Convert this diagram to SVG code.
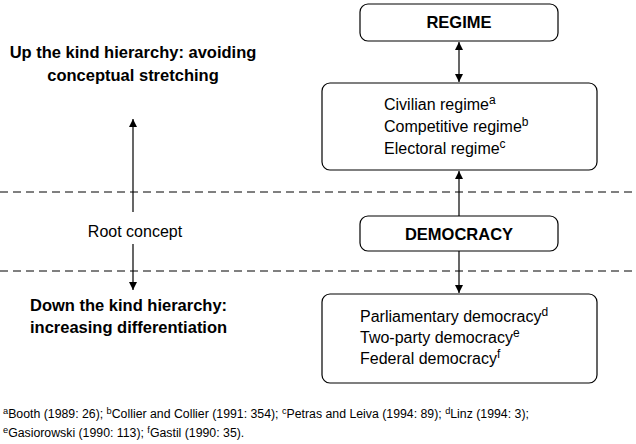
<svg xmlns="http://www.w3.org/2000/svg" width="636" height="444" viewBox="0 0 636 444">
<style>
text{font-family:"Liberation Sans",Arial,sans-serif;fill:#000}
.b{font-weight:bold;font-size:16.5px}
.t{font-size:16px}
.f{font-size:12.3px}
.s{font-size:75%}
.box{fill:#fff;stroke:#000;stroke-width:1.2}
.ln{stroke:#000;stroke-width:1.2;fill:none}
.d{stroke:#000;stroke-width:1;stroke-dasharray:8,5}
</style>
<defs>
<marker id="ah" viewBox="0 0 10 10" refX="10" refY="5" markerWidth="8" markerHeight="8" markerUnits="userSpaceOnUse" orient="auto-start-reverse"><path d="M0,0 L10,5 L0,10 z" fill="#000"/></marker>
</defs>
<line class="d" x1="0" y1="192" x2="636" y2="192"/>
<line class="d" x1="0" y1="271" x2="636" y2="271"/>
<g id="regime"><rect class="box" x="360" y="4" width="198" height="37" rx="8"/><text class="b" x="459" y="28" text-anchor="middle">REGIME</text></g>
<g id="regimes"><rect class="box" x="322" y="83" width="275" height="87" rx="8"/>
<text class="t" x="384" y="110">Civilian regime<tspan class="s" dy="-6">a</tspan></text>
<text class="t" x="384" y="132">Competitive regime<tspan class="s" dy="-6">b</tspan></text>
<text class="t" x="384" y="154">Electoral regime<tspan class="s" dy="-6">c</tspan></text></g>
<g id="democracy"><rect class="box" x="360" y="216" width="198" height="35" rx="8"/><text class="b" x="459" y="240" text-anchor="middle">DEMOCRACY</text></g>
<g id="democracies"><rect class="box" x="322" y="294" width="275" height="89" rx="8"/>
<text class="t" x="360" y="322">Parliamentary democracy<tspan class="s" dy="-6">d</tspan></text>
<text class="t" x="360" y="343">Two-party democracy<tspan class="s" dy="-6">e</tspan></text>
<text class="t" x="360" y="364">Federal democracy<tspan class="s" dy="-6">f</tspan></text></g>
<g id="labels">
<text class="b" x="133" y="58" text-anchor="middle">Up the kind hierarchy: avoiding</text>
<text class="b" x="133" y="81" text-anchor="middle">conceptual stretching</text>
<text class="t" x="135" y="237" text-anchor="middle">Root concept</text>
<text class="b" x="30" y="311">Down the kind hierarchy:</text>
<text class="b" x="30" y="333">increasing differentiation</text>
</g>
<g id="connectors">
<line class="ln" x1="459" y1="42" x2="459" y2="82" marker-start="url(#ah)" marker-end="url(#ah)"/>
<line class="ln" x1="459" y1="216" x2="459" y2="171" marker-end="url(#ah)"/>
<line class="ln" x1="459" y1="251" x2="459" y2="293" marker-end="url(#ah)"/>
<line class="ln" x1="133" y1="212" x2="133" y2="119" marker-end="url(#ah)"/>
<line class="ln" x1="133" y1="244" x2="133" y2="290" marker-end="url(#ah)"/>
</g>
<g id="footnotes">
<text class="f" x="3" y="418"><tspan class="s" dy="-4">a</tspan><tspan dy="4">Booth (1989: 26); </tspan><tspan class="s" dy="-4">b</tspan><tspan dy="4">Collier and Collier (1991: 354); </tspan><tspan class="s" dy="-4">c</tspan><tspan dy="4">Petras and Leiva (1994: 89); </tspan><tspan class="s" dy="-4">d</tspan><tspan dy="4">Linz (1994: 3);</tspan></text>
<text class="f" x="3" y="437"><tspan class="s" dy="-4">e</tspan><tspan dy="4">Gasiorowski (1990: 113); </tspan><tspan class="s" dy="-4">f</tspan><tspan dy="4">Gastil (1990: 35).</tspan></text>
</g>
</svg>
